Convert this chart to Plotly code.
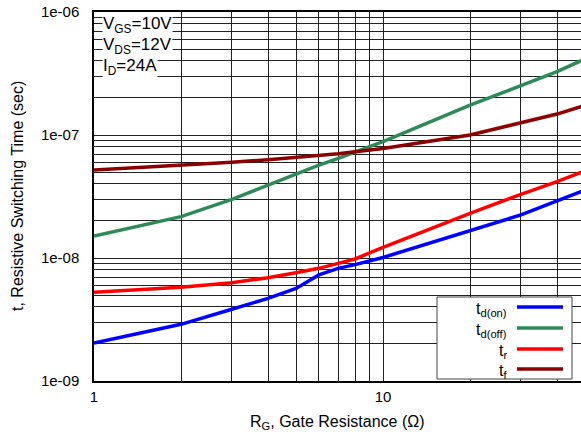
import numpy as np
import plotly.graph_objects as go

# Gate resistance (ohm)
rg = [1, 2, 3, 4, 5, 6, 7, 8, 10, 20, 30, 40, 50]

# Resistive switching times (s)
td_on = [2.04e-9, 2.89e-9, 3.83e-9, 4.70e-9, 5.66e-9, 7.28e-9, 8.24e-9,
         8.83e-9, 1.01e-8, 1.66e-8, 2.24e-8, 2.92e-8, 3.56e-8]
td_off = [1.51e-8, 2.17e-8, 3.00e-8, 3.92e-8, 4.88e-8, 5.70e-8, 6.46e-8,
          7.25e-8, 8.83e-8, 1.75e-7, 2.50e-7, 3.27e-7, 4.16e-7]
t_r = [5.26e-9, 5.78e-9, 6.30e-9, 6.92e-9, 7.59e-9, 8.24e-9, 9.05e-9,
       9.82e-9, 1.22e-8, 2.31e-8, 3.29e-8, 4.17e-8, 5.13e-8]
t_f = [5.19e-8, 5.66e-8, 6.00e-8, 6.29e-8, 6.54e-8, 6.75e-8, 7.04e-8,
       7.31e-8, 7.78e-8, 1.00e-7, 1.25e-7, 1.48e-7, 1.74e-7]

series_names = ["t<sub>d(on)</sub>", "t<sub>d(off)</sub>", "t<sub>r</sub>", "t<sub>f</sub>"]
series_values = [td_on, td_off, t_r, t_f]
series_colors = ["#0000ff", "#2e8b57", "#ff0000", "#8b0000"]

conditions = ["V<sub>GS</sub>=10V", "V<sub>DS</sub>=12V", "I<sub>D</sub>=24A"]

x_ticks = [1, 10]
x_ticktext = ["1", "10"]
y_ticks = [1e-9, 1e-8, 1e-7, 1e-6]
y_ticktext = ["1e-09", "1e-08", "1e-07", "1e-06"]

FONT = "Liberation Sans, Arial, Helvetica, sans-serif"

# minor grid positions: 2..9 times each decade
x_minor = [m * 10 ** d for d in range(0, 2) for m in range(2, 10)]
y_minor = [m * 10.0 ** d for d in range(-9, -6) for m in range(2, 10)]

fig = go.Figure()
for name, vals, col in zip(series_names, series_values, series_colors):
    fig.add_trace(go.Scatter(x=rg, y=vals, mode="lines", name=name,
                             line=dict(color=col, width=3.5), showlegend=False))

# plot-area geometry in pixels
W, H = 581, 438
L, R, T, B = 94, 0, 12, 57
pw, ph = W - L - R, H - T - B


def px(x):
    return (x - L) / pw


def py(y):
    return (T + ph - y) / ph


shapes = []
annotations = []

# legend box with text on the left and line sample on the right
shapes.append(dict(type="rect", xref="paper", yref="paper",
                   x0=px(437), x1=px(572), y0=py(379), y1=py(297),
                   line=dict(color="#444", width=1), fillcolor="white", layer="above"))
row_y = [307, 328, 349, 369]
for name, col, ry in zip(series_names, series_colors, row_y):
    shapes.append(dict(type="line", xref="paper", yref="paper",
                       x0=px(517), x1=px(563), y0=py(ry), y1=py(ry),
                       line=dict(color=col, width=3.5), layer="above"))
    annotations.append(dict(text=name, xref="paper", yref="paper",
                            x=px(509), y=py(ry), xanchor="right", yanchor="middle",
                            yshift=-2, showarrow=False,
                            font=dict(family=FONT, size=16, color="black")))

# test conditions, upper left
for txt, cy in zip(conditions, [25, 46, 67]):
    annotations.append(dict(text=txt, xref="paper", yref="paper",
                            x=px(102), y=py(cy), xanchor="left", yanchor="middle",
                            showarrow=False, bgcolor="white", borderpad=0,
                            font=dict(family=FONT, size=17, color="black")))

# axis titles
annotations.append(dict(text="R<sub>G</sub>, Gate Resistance (\u03a9)", xref="paper", yref="paper",
                        x=0.5, y=py(422), xanchor="center", yanchor="middle",
                        showarrow=False, font=dict(family=FONT, size=16, color="black")))
annotations.append(dict(text="t, Resistive Switching Time (sec)", xref="paper", yref="paper",
                        x=px(17), y=py(196), xanchor="center", yanchor="middle",
                        textangle=-90, showarrow=False,
                        font=dict(family=FONT, size=16, color="black")))

grid_col = "#222"
fig.update_layout(
    width=W, height=H,
    margin=dict(l=L, r=R, t=T, b=B, autoexpand=False),
    paper_bgcolor="white", plot_bgcolor="white",
    font=dict(family=FONT, size=15, color="black"),
    shapes=shapes, annotations=annotations,
    xaxis=dict(type="log", range=[0, np.log10(48.4)],
               tickvals=x_ticks, ticktext=x_ticktext, ticks="",
               ticklabelstandoff=1,
               showgrid=True, gridcolor=grid_col, gridwidth=1,
               minor=dict(tickvals=x_minor, showgrid=True, gridcolor=grid_col,
                          gridwidth=1, ticks=""),
               showline=True, linecolor="black", linewidth=1.5, mirror=True,
               zeroline=False, tickfont=dict(family=FONT, size=15)),
    yaxis=dict(type="log", range=[-9, -6],
               tickvals=y_ticks, ticktext=y_ticktext, ticks="",
               ticklabelstandoff=10,
               showgrid=True, gridcolor=grid_col, gridwidth=1,
               minor=dict(tickvals=y_minor, showgrid=True, gridcolor=grid_col,
                          gridwidth=1, ticks=""),
               showline=True, linecolor="black", linewidth=1.5, mirror=False,
               zeroline=False, tickfont=dict(family=FONT, size=15)),
)

fig.write_html("out.html")
